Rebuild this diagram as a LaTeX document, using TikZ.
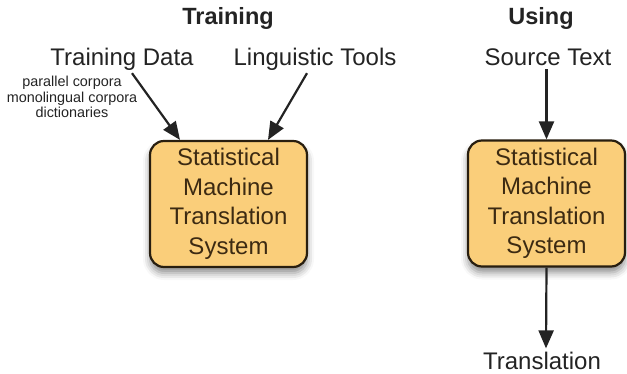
\documentclass[tikz,border=0pt]{standalone}
\usepackage{fontspec}
\setmainfont{Liberation Sans}
\usetikzlibrary{arrows.meta,shadows.blur}
\definecolor{boxfill}{RGB}{250,206,122}
\definecolor{boxline}{RGB}{40,30,15}
\definecolor{boxtext}{RGB}{60,42,18}
\definecolor{ink}{RGB}{35,35,35}
\tikzset{
  smtbox/.style={draw=boxline, line width=2.2pt, fill=boxfill, rounded corners=14pt,
    minimum width=157pt, minimum height=126pt, inner sep=0pt, align=center,
    text=boxtext, font=\fontsize{24}{29.5}\selectfont,
    blur shadow={shadow xshift=0pt, shadow yshift=-6pt, shadow blur radius=7pt, shadow opacity=45}},
  lbl/.style={anchor=base, inner sep=0pt, text=ink, font=\fontsize{24}{29}\selectfont},
  ttl/.style={anchor=base, inner sep=0pt, text=ink, font=\bfseries\fontsize{23.5}{28}\selectfont},
  small/.style={inner sep=0pt, align=center, text=ink, font=\fontsize{14.4}{15.5}\selectfont},
  arr/.style={draw=ink, line width=2.2pt, -{Triangle[length=18pt,width=15pt]}}
}
\begin{document}
\begin{tikzpicture}[x=1pt,y=-1pt]
\useasboundingbox (0,0) rectangle (627,374);
% titles
\node[ttl] (t1) at (228,25) {Training};
\node[ttl] (t2) at (541,25) {Using};
% training side
\node[lbl] (td) at (122,66) {Training Data};
\node[lbl] (lt) at (315,66) {Linguistic Tools};
\node[small] (sm) at (72,97) {parallel corpora\\monolingual corpora\\dictionaries};
\node[smtbox] (b1) at (228.5,204) {Statistical\\Machine\\Translation\\System};
% using side
\node[lbl] (st) at (548,66) {Source Text};
\node[smtbox] (b2) at (546.5,203.5) {Statistical\\Machine\\Translation\\System};
\node[lbl] (tr) at (542,370) {Translation};
% arrows
\draw[arr] ([xshift=10pt,yshift=-2pt]td.south) -- ([xshift=-48.5pt]b1.north);
\draw[arr] ([xshift=-8pt,yshift=-2pt]lt.south) -- ([xshift=39.5pt]b1.north);
\draw[arr] ([xshift=-1.5pt,yshift=-3pt]st.south) -- (b2.north);
\draw[arr] (b2.south) -- ([xshift=4pt,yshift=4pt]tr.north);
\end{tikzpicture}
\end{document}
